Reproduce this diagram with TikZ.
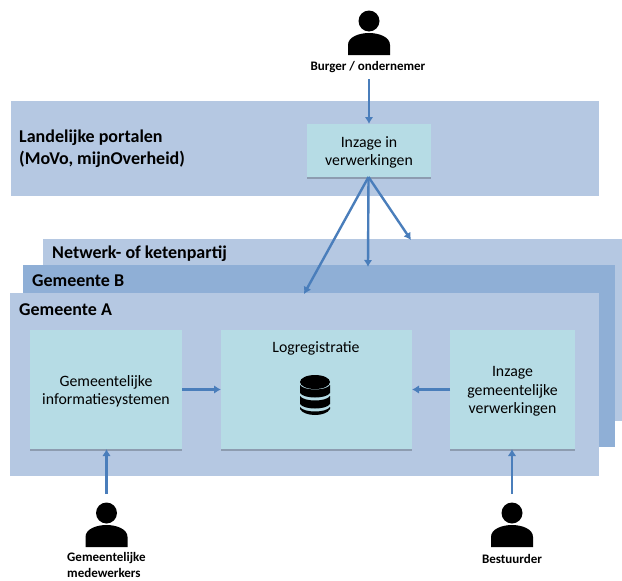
\documentclass[tikz,border=0pt]{standalone}
\usepackage{fontspec}
\setmainfont{Carlito}
\usetikzlibrary{arrows.meta,shadows}
\definecolor{vlak}{HTML}{B5C8E2}
\definecolor{vlakdonker}{HTML}{8FAFD6}
\definecolor{blok}{HTML}{B6DCE5}
\definecolor{pijlblauw}{HTML}{4A7EBB}
\tikzset{
  laag/.style={fill=#1,inner sep=0pt,outer sep=0pt},
  blokje/.style={fill=blok,inner sep=0pt,outer sep=0pt,
    drop shadow={shadow xshift=0pt,shadow yshift=-1.5pt,fill=black,opacity=0.22}},
  bloktekst/.style={inner sep=0pt,align=center,yshift=-2pt,font=\fontsize{15.8}{18.5}\selectfont},
  kop/.style={anchor=west,inner sep=0pt,align=left,font=\fontsize{18}{22}\selectfont\bfseries},
  naam/.style={inner sep=0pt,align=left,font=\fontsize{13}{16}\selectfont\bfseries},
  pijl/.style={draw=pijlblauw,line width=2.4pt,-{Latex[length=7pt,width=8.5pt]}},
  persoon/.pic={
    \fill (0,0) circle [radius=10.5pt];
    \fill (-21,34) -- (-21,24) .. controls (-21,16) and (-10,12) .. (0,12)
      .. controls (10,12) and (21,16) .. (21,24) -- (21,34) -- cycle;
  }
}
\begin{document}
\begin{tikzpicture}[x=1pt,y=-1pt]
\useasboundingbox (0,0) rectangle (622,581);
%lagen
\node[laag=vlak,minimum width=588pt,minimum height=95pt] (portalen) at (305,148.5) {};
\node[laag=vlak,minimum width=579pt,minimum height=182pt] (netwerk) at (332.5,330) {};
\node[laag=vlakdonker,minimum width=592pt,minimum height=182pt] (gemeenteB) at (319,356) {};
\node[laag=vlak,minimum width=589pt,minimum height=183pt] (gemeenteA) at (304.5,384.5) {};
\node[kop] (portalentekst) at (19,149) {Landelijke portalen\\(MoVo, mijnOverheid)};
\node[kop] (netwerktekst) at (52,254) {Netwerk- of ketenpartij};
\node[kop] (gemeenteBtekst) at (32,281) {Gemeente B};
\node[kop] (gemeenteAtekst) at (19,310) {Gemeente A};
%blokken
\node[blokje,minimum width=124pt,minimum height=53pt] (inzage) at (369,150.5) {};
\node[blokje,minimum width=152pt,minimum height=119pt] (systemen) at (106,389.5) {};
\node[blokje,minimum width=191pt,minimum height=119pt] (log) at (316.5,389.5) {};
\node[blokje,minimum width=125pt,minimum height=119pt] (inzagegem) at (512.5,389.5) {};
\node[bloktekst] (inzagetekst) at (inzage) {Inzage in\\verwerkingen};
\node[bloktekst] (systementekst) at (systemen) {Gemeentelijke\\informatiesystemen};
\node[bloktekst] (logtekst) at (316,346) {Logregistratie};
\node[bloktekst] (inzagegemtekst) at (inzagegem) {Inzage\\gemeentelijke\\verwerkingen};
%database
\fill (300,382) arc [x radius=15,y radius=7,start angle=180,end angle=360]
  -- (330,382) arc [x radius=15,y radius=7,start angle=0,end angle=180] -- cycle;
\fill (300,385) .. controls (304,391) and (326,391) .. (330,385) -- (330,393)
  .. controls (326,399) and (304,399) .. (300,393) -- cycle;
\fill (300,396) .. controls (304,402) and (326,402) .. (330,396) -- (330,404)
  .. controls (326,410) and (304,410) .. (300,404) -- cycle;
\fill (300,407) .. controls (304,413) and (326,413) .. (330,407) -- (330,409)
  .. controls (326,417) and (304,417) .. (300,409) -- cycle;
%personen
\pic at (369,21) {persoon};
\pic at (106.5,513) {persoon};
\pic at (512,513) {persoon};
\node[naam] (burger) at (368,67) {Burger / ondernemer};
\node[naam,anchor=north west] (medewerkers) at (67,552) {Gemeentelijke\\medewerkers};
\node[naam] (bestuurder) at (512,559) {Bestuurder};
%pijlen
\coordinate (burgerstart) at (369,79);
\coordinate (medewerkerstart) at (106.5,494);
\coordinate (bestuurderstart) at (512,494);
\coordinate (eindA) at (304,294);
\coordinate (eindB) at (368,267);
\coordinate (eindnetwerk) at (411,240);
\coordinate (inzagepunt) at (368.5,177);
\draw[pijl] (burgerstart) -- (inzage.north -| burgerstart);
\draw[pijl] (inzagepunt) -- (eindA);
\draw[pijl] (inzagepunt) -- (eindB);
\draw[pijl] (inzagepunt) -- (eindnetwerk);
\draw[pijl] (systemen.east) -- (log.west);
\draw[pijl] (inzagegem.west) -- (log.east);
\draw[pijl] (medewerkerstart) -- (systemen.south -| medewerkerstart);
\draw[pijl] (bestuurderstart) -- (inzagegem.south -| bestuurderstart);
\end{tikzpicture}
\end{document}
